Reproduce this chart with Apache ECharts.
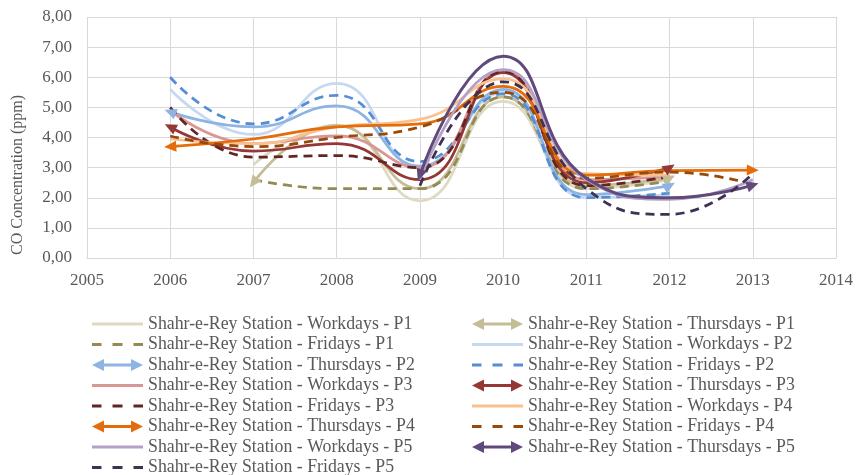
<!DOCTYPE html>
<html>
<head>
<meta charset="utf-8">
<script src="https://cdn.jsdelivr.net/npm/echarts@6/dist/echarts.min.js"></script>
<style>
html, body { margin: 0; background: #fff; }
#chart { width: 856px; height: 475px; }
</style>
</head>
<body>
<div id="chart"></div>
<script>
// years covered by each period
const yearsP1 = [2007, 2008, 2009, 2010, 2011, 2012];
const yearsP2 = [2006, 2007, 2008, 2009, 2010, 2011, 2012];
const yearsP3 = [2006, 2007, 2008, 2009, 2010, 2011, 2012];
const yearsP4 = [2006, 2007, 2008, 2009, 2010, 2011, 2012, 2013];
const yearsP4Workdays = [2006, 2007, 2008, 2009, 2010, 2011, 2012];
const yearsP5 = [2009, 2010, 2011, 2012, 2013];

// CO concentration (ppm)
const workdaysP1 = [3.1, 4.4, 1.9, 5.2, 2.3, 2.6];
const thursdaysP1 = [2.5, 4.4, 2.3, 5.35, 2.4, 2.65];
const fridaysP1 = [2.6, 2.3, 2.3, 5.35, 2.3, 2.55];
const workdaysP2 = [5.6, 4.1, 5.8, 3.0, 5.5, 2.0, 2.1];
const thursdaysP2 = [4.85, 4.35, 5.05, 3.05, 5.6, 2.1, 2.4];
const fridaysP2 = [6.0, 4.45, 5.4, 3.2, 5.45, 2.0, 2.15];
const workdaysP3 = [4.9, 3.8, 4.05, 3.0, 6.2, 2.6, 2.7];
const thursdaysP3 = [4.35, 3.55, 3.8, 2.6, 6.15, 2.5, 3.0];
const fridaysP3 = [5.0, 3.35, 3.4, 3.0, 6.2, 2.4, 2.7];
const workdaysP4 = [3.95, 3.8, 4.35, 4.6, 5.95, 2.8, 2.75];
const thursdaysP4 = [3.7, 3.95, 4.35, 4.45, 5.7, 2.75, 2.9, 2.92];
const fridaysP4 = [4.05, 3.7, 4.0, 4.35, 5.5, 2.65, 2.85, 2.45];
const workdaysP5 = [2.6, 6.25, 2.6, 1.95, 2.6];
const thursdaysP5 = [2.75, 6.7, 2.65, 2.0, 2.42];
const fridaysP5 = [2.4, 5.85, 2.3, 1.45, 2.8];

const xTicks = [2005, 2006, 2007, 2008, 2009, 2010, 2011, 2012, 2013, 2014];
const yTicks = [0, 1, 2, 3, 4, 5, 6, 7, 8];

const font = '"Liberation Serif", "Times New Roman", serif';
const textColor = '#595959';

const lines = [
    { name: 'Shahr-e-Rey Station - Workdays - P1', x: yearsP1, y: workdaysP1, color: '#DDD9C3', kind: 'solid' },
    { name: 'Shahr-e-Rey Station - Thursdays - P1', x: yearsP1, y: thursdaysP1, color: '#C4BD97', kind: 'arrow' },
    { name: 'Shahr-e-Rey Station - Fridays - P1', x: yearsP1, y: fridaysP1, color: '#948A54', kind: 'dash' },
    { name: 'Shahr-e-Rey Station - Workdays - P2', x: yearsP2, y: workdaysP2, color: '#C6D9F1', kind: 'solid' },
    { name: 'Shahr-e-Rey Station - Thursdays - P2', x: yearsP2, y: thursdaysP2, color: '#8DB4E2', kind: 'arrow' },
    { name: 'Shahr-e-Rey Station - Fridays - P2', x: yearsP2, y: fridaysP2, color: '#558ED5', kind: 'dash' },
    { name: 'Shahr-e-Rey Station - Workdays - P3', x: yearsP3, y: workdaysP3, color: '#D99694', kind: 'solid' },
    { name: 'Shahr-e-Rey Station - Thursdays - P3', x: yearsP3, y: thursdaysP3, color: '#953735', kind: 'arrow' },
    { name: 'Shahr-e-Rey Station - Fridays - P3', x: yearsP3, y: fridaysP3, color: '#632523', kind: 'dash' },
    { name: 'Shahr-e-Rey Station - Workdays - P4', x: yearsP4Workdays, y: workdaysP4, color: '#FAC090', kind: 'solid' },
    { name: 'Shahr-e-Rey Station - Thursdays - P4', x: yearsP4, y: thursdaysP4, color: '#E46C0A', kind: 'arrow' },
    { name: 'Shahr-e-Rey Station - Fridays - P4', x: yearsP4, y: fridaysP4, color: '#984807', kind: 'dash' },
    { name: 'Shahr-e-Rey Station - Workdays - P5', x: yearsP5, y: workdaysP5, color: '#B3A2C7', kind: 'solid' },
    { name: 'Shahr-e-Rey Station - Thursdays - P5', x: yearsP5, y: thursdaysP5, color: '#604A7B', kind: 'arrow' },
    { name: 'Shahr-e-Rey Station - Fridays - P5', x: yearsP5, y: fridaysP5, color: '#3F3151', kind: 'dash' },
];

// legend icons drawn like the Excel legend keys
const icons = {
    solid: 'path://M0,0H51V3H0Z',
    dash: 'path://M0,0H9.5V3H0ZM20.5,0H30.5V3H20.5ZM41.5,0H51V3H41.5Z',
    arrow: 'path://M0,6L12,0L12,4.5L39,4.5L39,0L51,6L39,12L39,7.5L12,7.5L12,12Z',
};

const chart = echarts.init(document.getElementById('chart'));

const buildSeries = (angles) => lines.map((l, i) => {
    const data = l.x.map((x, j) => {
        const last = j === l.x.length - 1;
        if (l.kind === 'arrow' && (j === 0 || last)) {
            return {
                value: [x, l.y[j]],
                symbol: 'triangle',
                symbolSize: [11, 12],
                symbolRotate: angles ? angles[i][last ? 1 : 0] : 0,
            };
        }
        return [x, l.y[j]];
    });
    return {
        name: l.name,
        type: 'line',
        smooth: true,
        symbol: 'none',
        showSymbol: true,
        silent: true,
        color: l.color,
        itemStyle: { color: l.color },
        lineStyle: {
            color: l.color,
            width: i === 13 ? 3 : 2.75,
            type: l.kind === 'dash' ? [9, 6] : 'solid',
            cap: 'butt',
        },
        data,
    };
});

const legendItems = (parity) => lines
    .filter((l, i) => i % 2 === parity)
    .map(l => ({ name: l.name, icon: icons[l.kind] }));

const legendBase = {
    orient: 'vertical',
    top: 315,
    height: 170,
    padding: 0,
    itemWidth: 51,
    itemHeight: 14,
    itemGap: 2.5,
    selectedMode: false,
    textStyle: { fontFamily: font, fontSize: 17.8, color: textColor, lineHeight: 18 },
};

const option = {
    animation: false,
    grid: { left: 87, right: 19, top: 17, bottom: 217 },
    xAxis: {
        type: 'value',
        min: xTicks[0],
        max: xTicks[xTicks.length - 1],
        interval: 1,
        axisLine: { show: true, lineStyle: { color: '#D9D9D9' } },
        axisTick: { show: false },
        splitLine: { show: true, lineStyle: { color: '#D9D9D9' } },
        axisLabel: { fontFamily: font, fontSize: 17, color: textColor, margin: 14, formatter: v => String(v) },
    },
    yAxis: {
        type: 'value',
        min: yTicks[0],
        max: yTicks[yTicks.length - 1],
        interval: 1,
        axisLine: { show: false },
        axisTick: { show: false },
        splitLine: { show: true, lineStyle: { color: '#D9D9D9' } },
        axisLabel: { fontFamily: font, fontSize: 17, color: textColor, margin: 15, formatter: v => v.toFixed(2).replace('.', ',') },
    },
    legend: [
        { ...legendBase, left: 92, data: legendItems(0) },
        { ...legendBase, left: 472, data: legendItems(1) },
    ],
    graphic: [{
        type: 'text',
        x: 18,
        y: 175,
        rotation: Math.PI / 2,
        style: {
            text: 'CO Concentration (ppm)',
            font: '16px ' + font,
            fill: textColor,
            align: 'center',
            verticalAlign: 'middle',
        },
    }],
    series: buildSeries(null),
};

chart.setOption(option);

// point the end arrows along the smoothed curve (ECharts control point at the neighbour)
const px = (x, y) => chart.convertToPixel({ xAxisIndex: 0, yAxisIndex: 0 }, [x, y]);
const endAngle = (p0, p1, p2) => {
    const l1 = Math.hypot(p1[0] - p0[0], p1[1] - p0[1]);
    const l2 = Math.hypot(p2[0] - p1[0], p2[1] - p1[1]);
    const k = 0.5 * l1 / (l1 + l2);
    const c = [p1[0] - (p2[0] - p0[0]) * k, p1[1] - (p2[1] - p0[1]) * k];
    const dx = p0[0] - c[0], dy = p0[1] - c[1];
    return Math.atan2(-dx, -dy) * 180 / Math.PI;
};
const angles = lines.map(l => {
    if (l.kind !== 'arrow') return null;
    const pts = l.x.map((x, j) => px(x, l.y[j]));
    const n = pts.length;
    return [endAngle(pts[0], pts[1], pts[2]), endAngle(pts[n - 1], pts[n - 2], pts[n - 3])];
});
chart.setOption({ series: buildSeries(angles) });
</script>
</body>
</html>
